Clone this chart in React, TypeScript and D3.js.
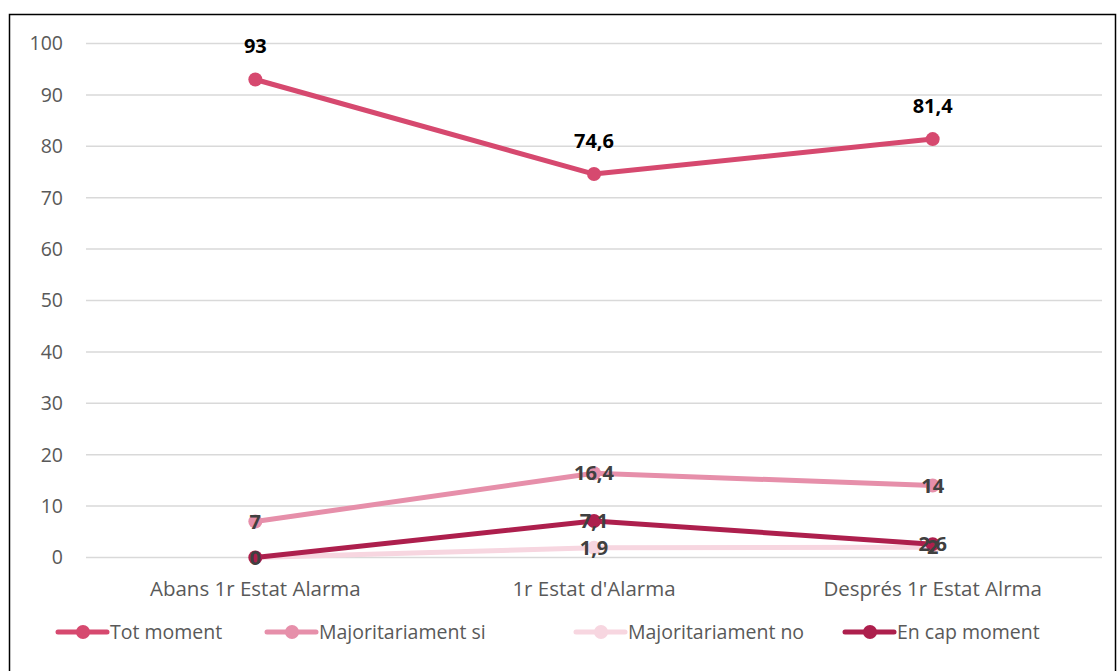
import React from "react";
import * as d3 from "d3";

const categories = ["Abans 1r Estat Alarma", "1r Estat d'Alarma", "Després 1r Estat Alrma"];
const seriesNames = ["Tot moment", "Majoritariament si", "Majoritariament no", "En cap moment"];
const totMoment = [93, 74.6, 81.4];
const majSi = [7, 16.4, 14];
const majNo = [0, 1.9, 2];
const enCap = [0, 7.1, 2.6];
const colors = ["#D6496F", "#E68FAA", "#F7D6E0", "#AD1F4D"];
const yTicks = [0, 10, 20, 30, 40, 50, 60, 70, 80, 90, 100];

const W = 1118, H = 671;
const left = 86, right = 1102, top = 43.5, bottom = 557.5;
const FONT = "'Open Sans', sans-serif";

export default function App() {
  const x = d3.scaleBand().domain(categories).range([left, right]);
  const y = d3.scaleLinear().domain([0, 100]).range([bottom, top]);
  const all = [totMoment, majSi, majNo, enCap];
  const line = d3.line<number>().x((_, i) => x(categories[i])! + x.bandwidth() / 2).y(d => y(d));
  const fmt = (v: number) => String(v).replace(".", ",");
  const legendX = [58, 267, 576, 845];
  return (
    <svg width={W} height={H} style={{ position: "absolute", left: 0, top: 0 }}>
      <rect x={0} y={0} width={W} height={H} fill="#fff" />
      <rect x={9.5} y={14.5} width={1106} height={680} fill="none" stroke="#000" strokeWidth={1.5} />
      {yTicks.map(t => (
        <g key={t}>
          <line x1={left} x2={right} y1={y(t)} y2={y(t)} stroke="#D9D9D9" strokeWidth={1.5} />
          <text x={63} y={y(t)} dy="0.35em" textAnchor="end" fontFamily={FONT} fontSize={19.5} fill="#595959">{t}</text>
        </g>
      ))}
      {categories.map(c => (
        <text key={c} x={x(c)! + x.bandwidth() / 2} y={589} dy="0.35em" textAnchor="middle" fontFamily={FONT} fontSize={20.5} fill="#595959">{c}</text>
      ))}
      {all.map((s, si) => (
        <g key={si}>
          <path d={line(s)!} fill="none" stroke={colors[si]} strokeWidth={5} strokeLinecap="round" strokeLinejoin="round" />
          {s.map((v, i) => (
            <circle key={i} cx={x(categories[i])! + x.bandwidth() / 2} cy={y(v)} r={7} fill={colors[si]} />
          ))}
        </g>
      ))}
      {all.map((s, si) => s.map((v, i) => {
        const cx = x(categories[i])! + x.bandwidth() / 2;
        if (si === 2 && i === 0) return null;
        if (si === 0) {
          return <text key={si + "-" + i} x={cx} y={y(v) - 33} dy="0.35em" textAnchor="middle" fontFamily={FONT} fontSize={20} fontWeight="bold" fill="#000">{fmt(v)}</text>;
        }
        return <text key={si + "-" + i} x={cx} y={y(v)} dy="0.35em" textAnchor="middle" fontFamily={FONT} fontSize={20} fontWeight="bold" fill="#404040">{fmt(v)}</text>;
      }))}
      {seriesNames.map((n, i) => (
        <g key={n}>
          <line x1={legendX[i]} x2={legendX[i] + 49} y1={632} y2={632} stroke={colors[i]} strokeWidth={5} strokeLinecap="round" />
          <circle cx={legendX[i] + 25} cy={632} r={7} fill={colors[i]} />
          <text x={legendX[i] + 52} y={632} dy="0.35em" fontFamily={FONT} fontSize={19.5} fill="#595959">{n}</text>
        </g>
      ))}
    </svg>
  );
}
